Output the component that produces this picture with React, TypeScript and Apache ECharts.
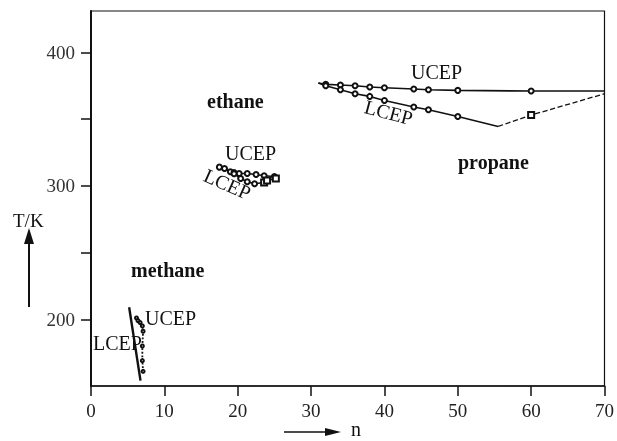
import React, { useEffect, useRef } from "react";
import * as echarts from "echarts";

// Propane critical end points
const propaneUCEP: number[][] = [
  [31, 377], [32, 376], [34, 375.5], [36, 375], [38, 374], [40, 373.5],
  [44, 372.5], [46, 372], [50, 371.5], [60, 371], [70, 371],
];
const propaneLCEP: number[][] = [
  [31, 377], [32, 375], [34, 372], [36, 369], [38, 367], [40, 364],
  [44, 359], [46, 357], [50, 352], [55.5, 344.5],
];
const propaneLCEPExtra: number[][] = [[55.5, 344.5], [60, 353], [70, 369]];

// Ethane critical end points
const ethaneUCEP: number[][] = [
  [17.5, 314], [18.2, 313], [19, 310.5], [19.5, 310], [20.2, 309.2],
  [21.3, 309.2], [22.5, 308.5], [23.6, 307.5], [25, 307],
];
const ethaneLCEP: number[][] = [
  [18.2, 313], [19.5, 309], [20.4, 305.5], [21.3, 303], [22.3, 301.5],
];
const ethaneLCEPExtra: number[][] = [
  [22.3, 301.5], [23.6, 302.5], [24, 304], [25.2, 305.5],
];

// Methane critical end points
const methaneLCEP: number[][] = [[5.2, 209], [6.75, 154]];
const methaneUCEP: number[][] = [
  [6.2, 201], [6.4, 199], [6.7, 197.5], [7, 195], [7.1, 191], [7, 180],
  [7, 169], [7.1, 161],
];

const xTicks = [0, 10, 20, 30, 40, 50, 60, 70];
const yTickValues = [200, 250, 300, 350, 400];
const yLabelValues = [200, 300, 400];

const FONT = "'Liberation Serif', 'DejaVu Serif', serif";

export default function App() {
  const ref = useRef<HTMLDivElement>(null);
  useEffect(() => {
    if (!ref.current) return;
    const chart = echarts.init(ref.current, null, { renderer: "svg" });
    const black = "#111";
    const lineSeries = (data: any[], opts: any = {}) => ({
      type: "line",
      data,
      symbol: opts.symbol ?? "emptyCircle",
      symbolSize: opts.symbolSize ?? 5,
      showSymbol: true,
      lineStyle: { color: black, width: opts.width ?? 1.6, type: opts.type ?? "solid" },
      itemStyle: { color: black, borderColor: black, borderWidth: 1 },
      z: 3,
    });
    const endless = (arr: number[][], skipFirst: boolean, skipLast: boolean) =>
      arr.map((p, i) =>
        (i === 0 && skipFirst) || (i === arr.length - 1 && skipLast)
          ? { value: p, symbol: "none" }
          : { value: p }
      );

    const text = (t: string, x: number, y: number, size: number, bold = false, rot = 0) => ({
      type: "text",
      x,
      y,
      rotation: rot,
      style: {
        text: t,
        fontFamily: FONT,
        fontSize: size,
        fontWeight: bold ? "bold" : "normal",
        fill: black,
        align: "left",
        verticalAlign: "middle",
      },
      z: 10,
    });

    chart.setOption({
      animation: false,
      grid: {
        left: 91,
        right: 10,
        top: 11,
        bottom: 55,
        show: true,
        borderColor: black,
        borderWidth: 1.2,
        backgroundColor: "transparent",
      },
      xAxis: {
        type: "value",
        min: xTicks[0],
        max: xTicks[xTicks.length - 1],
        interval: 10,
        axisLine: { show: true, lineStyle: { color: black, width: 1.6 } },
        axisTick: { show: true, inside: false, length: 10, lineStyle: { color: black, width: 1.5 } },
        axisLabel: { fontFamily: FONT, fontSize: 19, color: "#222", margin: 15 },
        splitLine: { show: false },
      },
      yAxis: {
        type: "value",
        min: 150,
        max: 431,
        axisLine: { show: true, lineStyle: { color: black, width: 2 } },
        axisTick: {
          show: true,
          inside: false,
          length: 10,
          customValues: yTickValues,
          lineStyle: { color: black, width: 1.5 },
        },
        axisLabel: {
          fontFamily: FONT,
          fontSize: 19,
          color: "#333",
          margin: 16,
          customValues: yLabelValues,
        },
        splitLine: { show: false },
      },
      series: [
        lineSeries(endless(propaneUCEP, true, true)),
        lineSeries(endless(propaneLCEP, true, true)),
        lineSeries(endless(propaneLCEPExtra, true, true), {
          symbol: "emptyRect",
          symbolSize: 6,
          type: "dashed",
          width: 1.3,
        }),
        lineSeries(ethaneUCEP, { symbolSize: 5 }),
        lineSeries(endless(ethaneLCEP, true, false), { symbolSize: 5 }),
        lineSeries(endless(ethaneLCEPExtra, true, false), { symbol: "emptyRect", symbolSize: 6 }),
        lineSeries(methaneLCEP, { symbol: "none", width: 2.4 }),
        lineSeries(endless(methaneUCEP, false, false), {
          symbolSize: 3,
          type: "dotted",
          width: 1.8,
        }),
      ],
      graphic: [
        text("ethane", 207, 101, 20, true),
        text("methane", 131, 270, 20, true),
        text("propane", 458, 162, 20, true),
        text("UCEP", 411, 72, 20),
        text("LCEP", 365, 106, 20, false, -0.26),
        text("UCEP", 225, 153, 20),
        text("LCEP", 205, 174, 20, false, -0.42),
        text("UCEP", 145, 318, 20),
        text("LCEP", 93, 343, 20),
        text("T/K", 13, 220, 19),
        // T/K arrow
        { type: "line", shape: { x1: 29, y1: 307, x2: 29, y2: 240 }, style: { stroke: black, lineWidth: 2 } },
        { type: "polygon", shape: { points: [[29, 228], [24, 244], [34, 244]] }, style: { fill: black } },
        // n arrow
        { type: "line", shape: { x1: 284, y1: 432, x2: 328, y2: 432 }, style: { stroke: black, lineWidth: 1.5 } },
        { type: "polygon", shape: { points: [[341, 432], [325, 428], [325, 436]] }, style: { fill: black } },
        text("n", 351, 429, 20),
      ],
    });
    return () => chart.dispose();
  }, []);
  return (
    <div
      ref={ref}
      style={{ position: "fixed", left: 0, top: 0, width: 617, height: 441 }}
    />
  );
}
